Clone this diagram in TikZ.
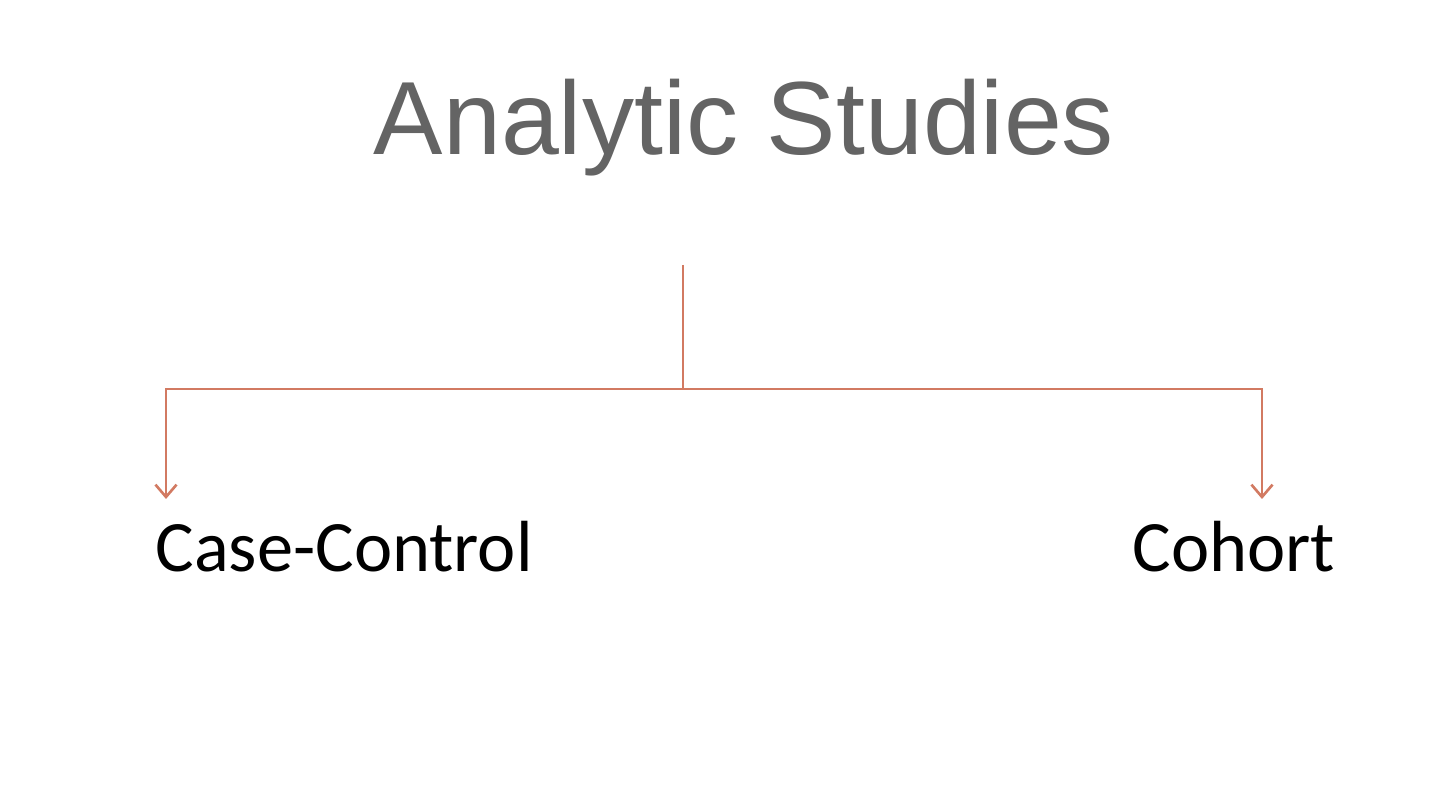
\documentclass[tikz,border=0pt]{standalone}
\usepackage{fontspec}
\setmainfont{Carlito}
\newfontfamily\titlefont{Liberation Sans}
\usetikzlibrary{arrows.meta}
\definecolor{titlegray}{HTML}{646464}
\definecolor{linkcol}{HTML}{D27A62}
\tikzset{
  titletext/.style={font=\titlefont\fontsize{29.6}{34}\selectfont, text=titlegray, inner sep=0pt, anchor=base},
  itemtext/.style={font=\fontsize{20.6}{25}\selectfont, text=black, inner sep=0pt, anchor=base west},
  link/.style={draw=linkcol, line width=0.75pt},
  arrowlink/.style={link, -{Straight Barb[length=3.5pt,width=6pt,line width=0.75pt]}}
}
\begin{document}
\begin{tikzpicture}
\useasboundingbox (0,0) rectangle (14.4,7.94);
\node[titletext] (title) at (7.44,6.39) {Analytic Studies};
\coordinate (top) at (6.83,5.29);
\coordinate (junc) at (6.83,4.05);
\coordinate (lc) at (1.66,4.05);
\coordinate (rc) at (12.62,4.05);
\coordinate (lend) at (1.66,2.95);
\coordinate (rend) at (12.62,2.95);
\node[itemtext] (case) at (1.55,2.22) {Case-Control};
\node[itemtext] (cohort) at (11.32,2.22) {Cohort};
\draw[link] (top) -- (junc);
\draw[arrowlink] (junc) -- (lc) -- (lend);
\draw[arrowlink] (junc) -- (rc) -- (rend);
\end{tikzpicture}
\end{document}
